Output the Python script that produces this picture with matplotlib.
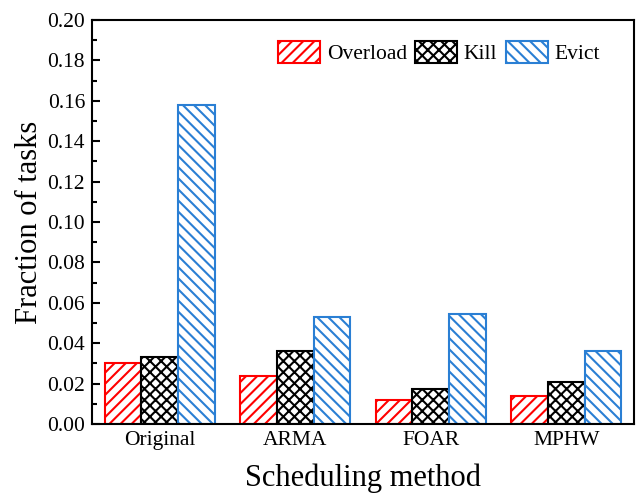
import matplotlib
matplotlib.use("Agg")
import matplotlib.pyplot as plt
import numpy as np
from matplotlib.ticker import MultipleLocator, FormatStrFormatter

plt.rcParams['font.family'] = ['Liberation Serif', 'DejaVu Serif']
plt.rcParams['hatch.linewidth'] = 1.5

methods = ['Original', 'ARMA', 'FOAR', 'MPHW']
overload = [0.030, 0.024, 0.012, 0.014]
kill = [0.033, 0.036, 0.0175, 0.021]
evict = [0.158, 0.053, 0.0545, 0.036]

series = [
    ('Overload', overload, '#ff0000', '///'),
    ('Kill', kill, '#000000', 'xxx'),
    ('Evict', evict, '#2a7fd4', '\\\\\\'),
]

fig = plt.figure(figsize=(6.37, 4.97), dpi=100)
ax = fig.add_axes([0.1444, 0.1469, 0.8509, 0.8129])

x = np.arange(len(methods))
width = 0.27
for i, (name, vals, color, hatch) in enumerate(series):
    ax.bar(x + (i - 1) * width, vals, width, facecolor='white', edgecolor=color,
           hatch=hatch, linewidth=1.5, label=name)

ax.set_xlim(-0.5, 3.5)
ax.set_ylim(0, 0.20)
ax.set_xticks(x)
ax.set_xticklabels(methods, fontsize=15.5)
ax.tick_params(axis='x', length=0, pad=5)
ax.yaxis.set_major_locator(MultipleLocator(0.02))
ax.yaxis.set_minor_locator(MultipleLocator(0.01))
ax.yaxis.set_major_formatter(FormatStrFormatter('%.2f'))
ax.tick_params(axis='y', which='major', direction='in', length=6, width=1.5,
               labelsize=15.5, pad=5)
ax.tick_params(axis='y', which='minor', direction='in', length=3.5, width=1.5)
for sp in ax.spines.values():
    sp.set_linewidth(1.5)

ax.set_xlabel('Scheduling method', fontsize=22, labelpad=10)
ax.set_ylabel('Fraction of tasks', fontsize=22, labelpad=2)

ax.legend(loc='upper right', ncol=3, frameon=False, fontsize=15.5,
          handlelength=1.95, handleheight=1.2, handletextpad=0.3,
          columnspacing=0.4, borderaxespad=0.3, bbox_to_anchor=(0.965, 0.985))

fig.savefig('out.png', dpi=100)
